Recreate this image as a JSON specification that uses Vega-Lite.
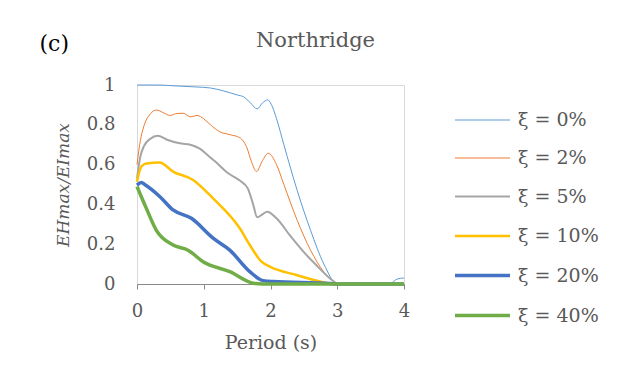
{
  "$schema": "https://vega.github.io/schema/vega-lite/v6.json",
  "width": 267,
  "height": 199,
  "autosize": "none",
  "padding": {"left": 137, "top": 85, "right": 217, "bottom": 99},
  "background": "white",
  "title": {"text": "Northridge", "font": "DejaVu Serif", "fontSize": 21, "fontWeight": "normal", "color": "#595959", "anchor": "middle", "dx": 45, "baseline": "alphabetic", "offset": -35},
  "config": {
    "view": {"stroke": "#D9D9D9", "strokeWidth": 1},
    "font": "DejaVu Serif",
    "axis": {"labelOverlap": false, "labelFlush": false}
  },
  "layer": [
    {
      "data": {"values": [
        {"p":0,"e":1,"d":"ξ = 0%"},{"p":0.3,"e":1,"d":"ξ = 0%"},{"p":0.6,"e":0.995,"d":"ξ = 0%"},{"p":0.9,"e":0.99,"d":"ξ = 0%"},{"p":1.1,"e":0.985,"d":"ξ = 0%"},{"p":1.3,"e":0.97,"d":"ξ = 0%"},{"p":1.5,"e":0.95,"d":"ξ = 0%"},{"p":1.6,"e":0.94,"d":"ξ = 0%"},{"p":1.7,"e":0.91,"d":"ξ = 0%"},{"p":1.8,"e":0.88,"d":"ξ = 0%"},{"p":1.88,"e":0.91,"d":"ξ = 0%"},{"p":1.96,"e":0.925,"d":"ξ = 0%"},{"p":2.0,"e":0.91,"d":"ξ = 0%"},{"p":2.1,"e":0.82,"d":"ξ = 0%"},{"p":2.2,"e":0.7,"d":"ξ = 0%"},{"p":2.4,"e":0.47,"d":"ξ = 0%"},{"p":2.6,"e":0.27,"d":"ξ = 0%"},{"p":2.8,"e":0.1,"d":"ξ = 0%"},{"p":3.0,"e":0,"d":"ξ = 0%"},{"p":3.5,"e":0,"d":"ξ = 0%"},{"p":3.78,"e":0,"d":"ξ = 0%"},{"p":3.9,"e":0.025,"d":"ξ = 0%"},{"p":4,"e":0.03,"d":"ξ = 0%"},

        {"p":0,"e":0.6,"d":"ξ = 2%"},{"p":0.05,"e":0.72,"d":"ξ = 2%"},{"p":0.1,"e":0.79,"d":"ξ = 2%"},{"p":0.2,"e":0.855,"d":"ξ = 2%"},{"p":0.29,"e":0.874,"d":"ξ = 2%"},{"p":0.4,"e":0.86,"d":"ξ = 2%"},{"p":0.49,"e":0.847,"d":"ξ = 2%"},{"p":0.6,"e":0.857,"d":"ξ = 2%"},{"p":0.69,"e":0.858,"d":"ξ = 2%"},{"p":0.8,"e":0.84,"d":"ξ = 2%"},{"p":0.9,"e":0.847,"d":"ξ = 2%"},{"p":1.0,"e":0.83,"d":"ξ = 2%"},{"p":1.1,"e":0.8,"d":"ξ = 2%"},{"p":1.24,"e":0.765,"d":"ξ = 2%"},{"p":1.4,"e":0.75,"d":"ξ = 2%"},{"p":1.54,"e":0.735,"d":"ξ = 2%"},{"p":1.64,"e":0.69,"d":"ξ = 2%"},{"p":1.72,"e":0.61,"d":"ξ = 2%"},{"p":1.79,"e":0.565,"d":"ξ = 2%"},{"p":1.88,"e":0.62,"d":"ξ = 2%"},{"p":1.965,"e":0.657,"d":"ξ = 2%"},{"p":2.09,"e":0.6,"d":"ξ = 2%"},{"p":2.2,"e":0.5,"d":"ξ = 2%"},{"p":2.4,"e":0.32,"d":"ξ = 2%"},{"p":2.6,"e":0.17,"d":"ξ = 2%"},{"p":2.8,"e":0.06,"d":"ξ = 2%"},{"p":3,"e":0,"d":"ξ = 2%"},

        {"p":0,"e":0.53,"d":"ξ = 5%"},{"p":0.05,"e":0.64,"d":"ξ = 5%"},{"p":0.1,"e":0.69,"d":"ξ = 5%"},{"p":0.2,"e":0.73,"d":"ξ = 5%"},{"p":0.31,"e":0.745,"d":"ξ = 5%"},{"p":0.45,"e":0.725,"d":"ξ = 5%"},{"p":0.64,"e":0.707,"d":"ξ = 5%"},{"p":0.8,"e":0.7,"d":"ξ = 5%"},{"p":0.94,"e":0.68,"d":"ξ = 5%"},{"p":1.05,"e":0.65,"d":"ξ = 5%"},{"p":1.19,"e":0.61,"d":"ξ = 5%"},{"p":1.35,"e":0.56,"d":"ξ = 5%"},{"p":1.54,"e":0.52,"d":"ξ = 5%"},{"p":1.66,"e":0.48,"d":"ξ = 5%"},{"p":1.74,"e":0.4,"d":"ξ = 5%"},{"p":1.8,"e":0.335,"d":"ξ = 5%"},{"p":1.88,"e":0.35,"d":"ξ = 5%"},{"p":1.95,"e":0.363,"d":"ξ = 5%"},{"p":2.09,"e":0.33,"d":"ξ = 5%"},{"p":2.3,"e":0.24,"d":"ξ = 5%"},{"p":2.5,"e":0.16,"d":"ξ = 5%"},{"p":2.7,"e":0.09,"d":"ξ = 5%"},{"p":2.9,"e":0.025,"d":"ξ = 5%"},{"p":3,"e":0,"d":"ξ = 5%"},

        {"p":0,"e":0.514,"d":"ξ = 10%"},{"p":0.065,"e":0.59,"d":"ξ = 10%"},{"p":0.14,"e":0.606,"d":"ξ = 10%"},{"p":0.34,"e":0.611,"d":"ξ = 10%"},{"p":0.54,"e":0.565,"d":"ξ = 10%"},{"p":0.84,"e":0.523,"d":"ξ = 10%"},{"p":1.14,"e":0.43,"d":"ξ = 10%"},{"p":1.54,"e":0.28,"d":"ξ = 10%"},{"p":1.69,"e":0.196,"d":"ξ = 10%"},{"p":1.865,"e":0.112,"d":"ξ = 10%"},{"p":1.99,"e":0.087,"d":"ξ = 10%"},{"p":2.39,"e":0.045,"d":"ξ = 10%"},{"p":2.89,"e":0.003,"d":"ξ = 10%"},{"p":3,"e":0,"d":"ξ = 10%"},

        {"p":0,"e":0.497,"d":"ξ = 20%"},{"p":0.065,"e":0.51,"d":"ξ = 20%"},{"p":0.115,"e":0.5,"d":"ξ = 20%"},{"p":0.34,"e":0.44,"d":"ξ = 20%"},{"p":0.54,"e":0.372,"d":"ξ = 20%"},{"p":0.815,"e":0.33,"d":"ξ = 20%"},{"p":1.14,"e":0.23,"d":"ξ = 20%"},{"p":1.39,"e":0.17,"d":"ξ = 20%"},{"p":1.69,"e":0.062,"d":"ξ = 20%"},{"p":1.89,"e":0.017,"d":"ξ = 20%"},{"p":2.04,"e":0.012,"d":"ξ = 20%"},{"p":2.89,"e":0.003,"d":"ξ = 20%"},{"p":3,"e":0,"d":"ξ = 20%"},{"p":4,"e":0,"d":"ξ = 20%"},

        {"p":0,"e":0.49,"d":"ξ = 40%"},{"p":0.14,"e":0.38,"d":"ξ = 40%"},{"p":0.29,"e":0.27,"d":"ξ = 40%"},{"p":0.54,"e":0.196,"d":"ξ = 40%"},{"p":0.765,"e":0.17,"d":"ξ = 40%"},{"p":0.99,"e":0.112,"d":"ξ = 40%"},{"p":1.39,"e":0.062,"d":"ξ = 40%"},{"p":1.765,"e":0.003,"d":"ξ = 40%"},{"p":2,"e":0,"d":"ξ = 40%"},{"p":4,"e":0,"d":"ξ = 40%"}
      ]},
      "mark": {"type": "line", "clip": false, "strokeJoin": "round", "strokeCap": "butt", "interpolate": "monotone"},
      "encoding": {
        "x": {"field": "p", "type": "quantitative",
          "scale": {"domain": [0, 4], "nice": false},
          "axis": {"title": "Period (s)", "values": [0,1,2,3,4], "tickCount": 5, "format": "d", "grid": false, "labelFlush": false,
            "domainColor": "#898989", "tickColor": "#898989", "tickSize": 5,
            "labelFont": "DejaVu Serif", "labelFontSize": 18, "labelColor": "#595959", "labelPadding": 13,
            "titleFont": "DejaVu Serif", "titleFontSize": 19, "titleFontWeight": "normal", "titleColor": "#595959", "titlePadding": 13}},
        "y": {"field": "e", "type": "quantitative",
          "scale": {"domain": [0, 1], "nice": false},
          "axis": {"title": "EHmax/EImax", "values": [0,0.2,0.4,0.6,0.8,1], "tickCount": 6, "format": "~g", "labelOverlap": false, "labelFlush": false, "grid": false, "domain": false, "ticks": false,
            "labelFont": "DejaVu Serif", "labelFontSize": 18, "labelColor": "#595959", "labelPadding": 22,
            "titleFont": "DejaVu Serif", "titleFontSize": 17, "titleFontStyle": "italic", "titleFontWeight": "normal", "titleColor": "#595959", "titlePadding": 14}},
        "color": {"field": "d", "type": "nominal",
          "scale": {"domain": ["ξ = 0%","ξ = 2%","ξ = 5%","ξ = 10%","ξ = 20%","ξ = 40%"], "range": ["#5B9BD5","#ED7D31","#A5A5A5","#FFC000","#4472C4","#70AD47"]},
          "legend": {"title": null, "orient": "none", "legendX": 316, "legendY": 7, "symbolType": "stroke", "symbolSize": 3025,
            "labelFont": "DejaVu Serif", "labelFontSize": 19, "labelColor": "#595959", "labelOffset": 6, "rowPadding": -13}},
        "strokeWidth": {"field": "d", "type": "nominal",
          "scale": {"type": "ordinal", "domain": ["ξ = 0%","ξ = 2%","ξ = 5%","ξ = 10%","ξ = 20%","ξ = 40%"], "range": [1, 1, 2, 2.5, 3.5, 3.5]}}
      }
    },
    {
      "data": {"values": [{"label": "(c)"}]},
      "mark": {"type": "text", "font": "DejaVu Serif", "fontSize": 22, "color": "#000000", "align": "center", "baseline": "alphabetic", "clip": false},
      "encoding": {
        "x": {"datum": -1.24},
        "y": {"datum": 1.171},
        "text": {"field": "label"}
      }
    }
  ]
}
